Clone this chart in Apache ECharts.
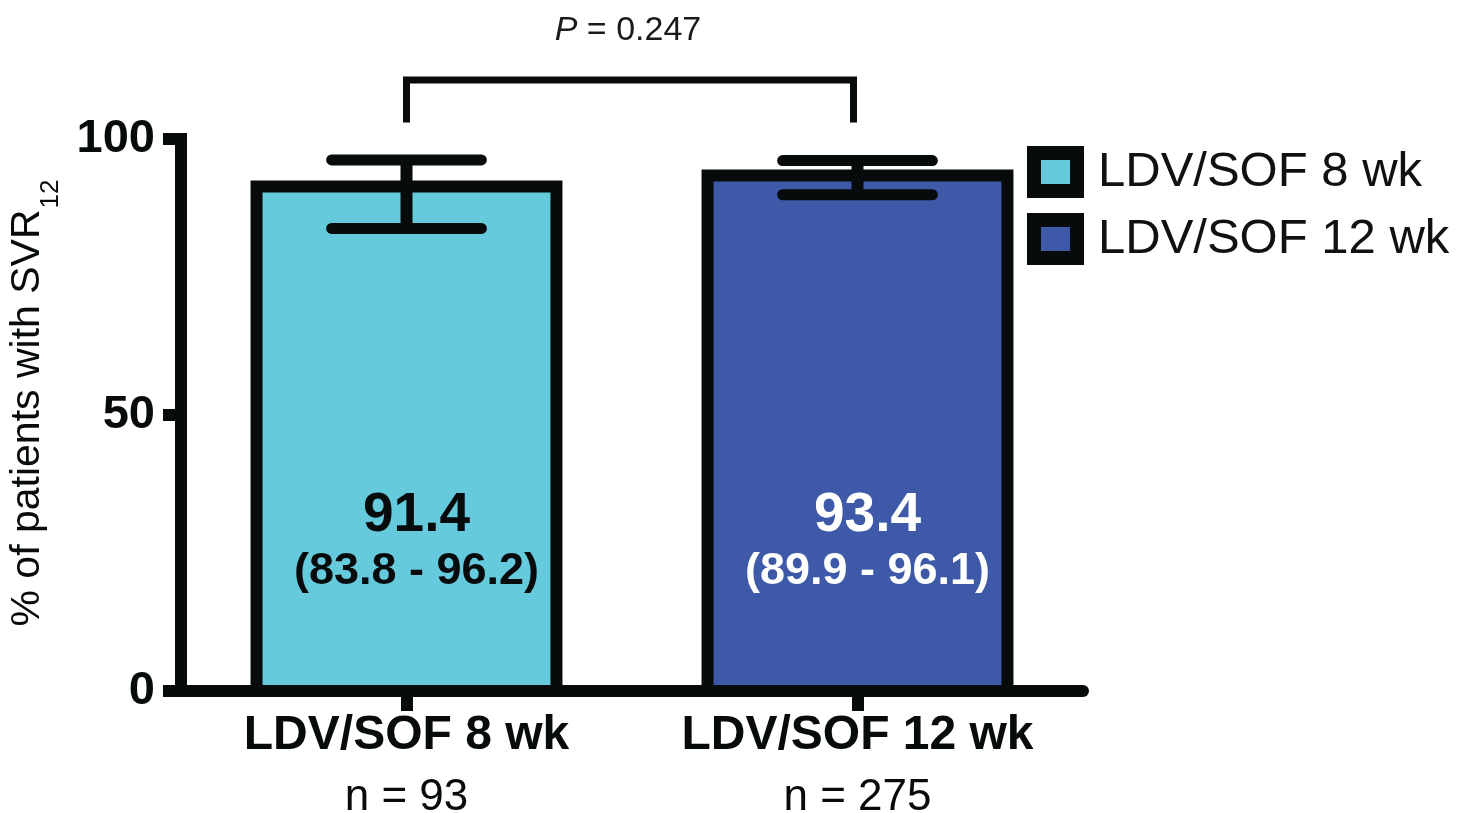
<!DOCTYPE html>
<html>
<head>
<meta charset="utf-8">
<script src="https://cdn.jsdelivr.net/npm/echarts@6/dist/echarts.min.js"></script>
<style>
  html, body { margin: 0; padding: 0; background: #ffffff; }
  #chart { width: 1464px; height: 813px; }
</style>
</head>
<body>
<div id="chart"></div>
<script>
// SVR12 rates by treatment duration, with 95% confidence intervals
const categories = ['LDV/SOF 8 wk', 'LDV/SOF 12 wk'];
const sampleSizes = [93, 275];
const svrRates = [91.4, 93.4];
const ciLower = [83.8, 89.9];
const ciUpper = [96.2, 96.1];
const pValueText = '0.247';
const yTickValues = [0, 50, 100];

const FONT = "'Liberation Sans', Arial, Helvetica, sans-serif";
const INK = '#070b0c';
const barColors = ['#66cadd', '#3d59a8'];
const labelColors = [INK, '#ffffff'];

// Outlined bar with its rate and CI text, placed through the axes
function barSeries(i) {
  return {
    name: categories[i],
    type: 'custom',
    z: 2,
    encode: { x: 0, y: 1 },
    data: [[i, svrRates[i]]],
    itemStyle: { color: barColors[i] },
    renderItem(params, api) {
      const top = api.coord([api.value(0), api.value(1)]);
      const base = api.coord([api.value(0), 0]);
      const w = api.size([1, 0])[0] * 0.665;
      return {
        type: 'group',
        children: [
          {
            type: 'rect',
            shape: { x: top[0] - w / 2, y: top[1], width: w, height: base[1] - top[1] },
            style: { fill: barColors[i], stroke: INK, lineWidth: 12, lineJoin: 'miter' }
          },
          {
            type: 'text',
            x: top[0] + 10,
            y: base[1] - 91,
            style: {
              text: '{v|' + svrRates[i].toFixed(1) + '}\n{ci|(' +
                ciLower[i].toFixed(1) + ' - ' + ciUpper[i].toFixed(1) + ')}',
              align: 'center',
              verticalAlign: 'bottom',
              rich: {
                v: { fontFamily: FONT, fontSize: 55, fontWeight: 'bold', fill: labelColors[i], lineHeight: 56, align: 'center' },
                ci: { fontFamily: FONT, fontSize: 45, fontWeight: 'bold', fill: labelColors[i], lineHeight: 56, align: 'center' }
              }
            }
          }
        ]
      };
    }
  };
}

const option = {
  animation: false,
  backgroundColor: '#ffffff',
  grid: { left: 181, right: 381, top: 139, bottom: 122, containLabel: false, outerBoundsMode: 'none' },
  legend: {
    data: categories,
    orient: 'vertical',
    left: 1027,
    top: 146,
    padding: 0,
    icon: 'rect',
    itemWidth: 43,
    itemHeight: 38,
    itemGap: 15,
    selectedMode: false,
    itemStyle: { borderColor: INK, borderWidth: 14 },
    textStyle: { fontFamily: FONT, fontSize: 49, color: '#111111', padding: [0, 0, 0, 16], lineHeight: 40 }
  },
  xAxis: {
    type: 'category',
    data: categories,
    axisLine: { show: true, lineStyle: { color: INK, width: 12 } },
    axisTick: { show: true, alignWithLabel: true, length: 20, lineStyle: { color: INK, width: 12 } },
    axisLabel: {
      margin: 14,
      formatter: (v, i) => '{b|' + v + '}\n{n|n = ' + sampleSizes[i] + '}',
      rich: {
        b: { fontFamily: FONT, fontSize: 48, fontWeight: 'bold', color: INK, lineHeight: 62 },
        n: { fontFamily: FONT, fontSize: 44, color: INK, lineHeight: 62 }
      }
    },
    splitLine: { show: false }
  },
  yAxis: {
    type: 'value',
    min: yTickValues[0],
    max: yTickValues[yTickValues.length - 1],
    interval: yTickValues[1] - yTickValues[0],
    axisLine: { show: true, lineStyle: { color: INK, width: 12, cap: 'square' } },
    axisTick: { show: true, length: 18, lineStyle: { color: INK, width: 12 } },
    axisLabel: { fontFamily: FONT, fontSize: 47, fontWeight: 'bold', color: INK, margin: 26 },
    splitLine: { show: false },
    name: '{m|% of patients with SVR}{s|12}',
    nameLocation: 'middle',
    nameGap: 128,
    nameRotate: 90,
    nameTextStyle: {
      padding: [0, 0, 0, 24],
      rich: {
        m: { fontFamily: FONT, fontSize: 41, color: INK, lineHeight: 50 },
        s: { fontFamily: FONT, fontSize: 26, color: INK, lineHeight: 50, padding: [46, 0, 0, 1] }
      }
    }
  },
  series: [
    barSeries(0),
    barSeries(1),
    {
      // confidence interval whiskers
      type: 'custom',
      name: 'CI',
      z: 5,
      silent: true,
      encode: { x: 0, y: [1, 2] },
      data: categories.map((c, i) => [i, ciLower[i], ciUpper[i]]),
      renderItem(params, api) {
        const idx = api.value(0);
        const lo = api.coord([idx, api.value(1)]);
        const hi = api.coord([idx, api.value(2)]);
        const half = api.size([1, 0])[0] * 0.166;
        const capStyle = { stroke: INK, lineWidth: 11, lineCap: 'round' };
        return {
          type: 'group',
          children: [
            { type: 'line', shape: { x1: lo[0], y1: lo[1], x2: hi[0], y2: hi[1] }, style: { stroke: INK, lineWidth: 12 } },
            { type: 'line', shape: { x1: lo[0] - half, y1: lo[1], x2: lo[0] + half, y2: lo[1] }, style: capStyle },
            { type: 'line', shape: { x1: hi[0] - half, y1: hi[1], x2: hi[0] + half, y2: hi[1] }, style: capStyle }
          ]
        };
      }
    },
    {
      // significance bracket between the two arms
      type: 'custom',
      name: 'P',
      z: 5,
      silent: true,
      clip: false,
      encode: { x: [0, 1] },
      data: [[0, 1]],
      renderItem(params, api) {
        const legLow = 103, legTop = 110.7, textLevel = 119.6;
        const a = api.coord([api.value(0), legLow]);
        const b = api.coord([api.value(1), legLow]);
        const top = api.coord([api.value(0), legTop])[1];
        const ty = api.coord([api.value(0), textLevel])[1];
        return {
          type: 'group',
          children: [
            {
              type: 'polyline',
              shape: { points: [[a[0], a[1]], [a[0], top], [b[0] - 4, top], [b[0] - 4, b[1]]] },
              style: { stroke: INK, lineWidth: 7, fill: null, lineJoin: 'miter' }
            },
            {
              type: 'text',
              x: (a[0] + b[0]) / 2 - 4,
              y: ty,
              style: {
                text: '{i|P} = ' + pValueText,
                align: 'center',
                verticalAlign: 'middle',
                fontFamily: FONT,
                fontSize: 34,
                fill: '#1a1a1a',
                rich: { i: { fontFamily: FONT, fontSize: 34, fontStyle: 'italic', fill: '#1a1a1a' } }
              }
            }
          ]
        };
      }
    }
  ]
};

const chart = echarts.init(document.getElementById('chart'), null, { renderer: 'canvas' });
chart.setOption(option);
</script>
</body>
</html>
